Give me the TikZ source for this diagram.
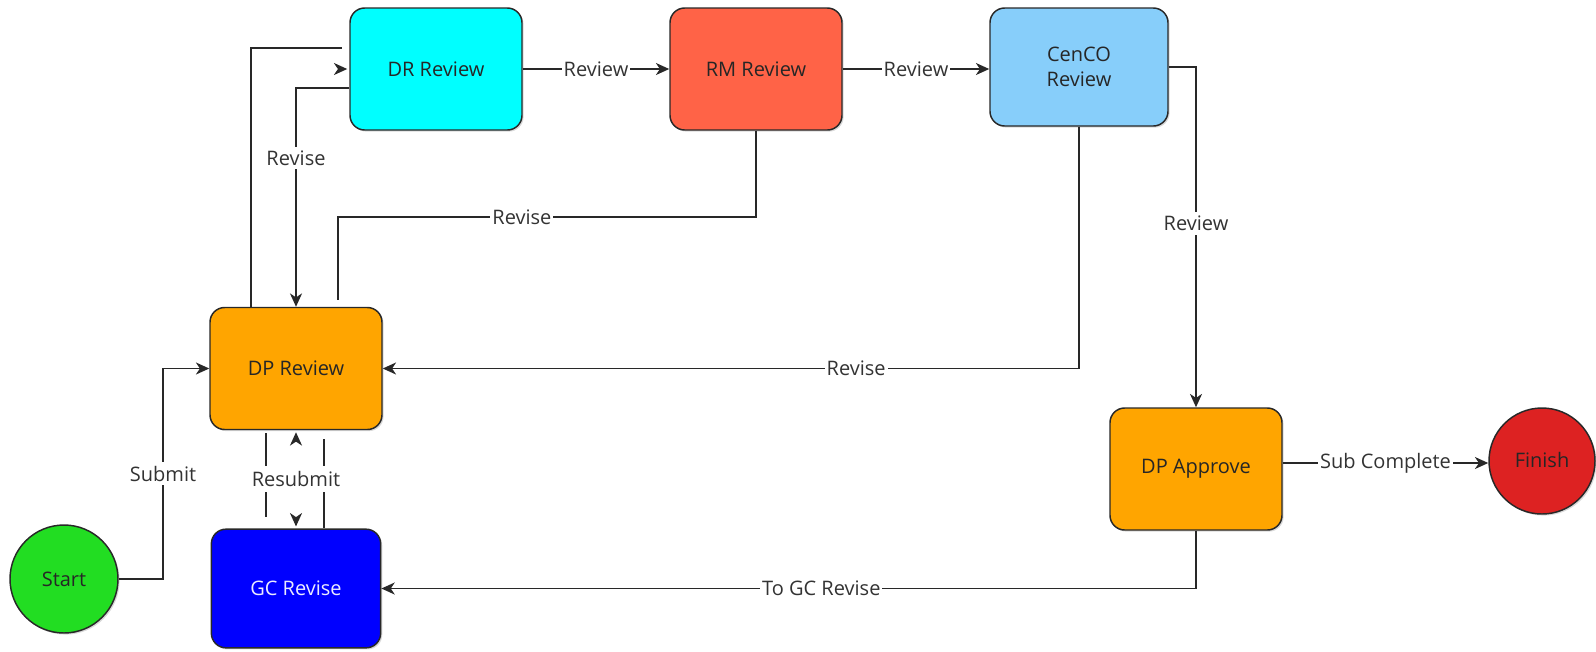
\documentclass[tikz,border=0pt]{standalone}
\usepackage{fontspec}
\setmainfont{Open Sans}
\usepackage{tikz}
\usetikzlibrary{arrows.meta}
\usetikzlibrary{shadows}
\usetikzlibrary{calc}

\definecolor{drcyan}{RGB}{0,255,255}
\definecolor{rmred}{RGB}{255,99,71}
\definecolor{cencoblue}{RGB}{135,206,250}
\definecolor{dporange}{RGB}{255,165,0}
\definecolor{gcblue}{RGB}{0,0,255}
\definecolor{startgreen}{RGB}{34,221,34}
\definecolor{finishred}{RGB}{221,34,34}
\definecolor{linegray}{RGB}{40,40,40}

\begin{document}
\begin{tikzpicture}[x=0.75pt,y=-0.75pt,>={Stealth[length=10pt,width=9pt,inset=3pt]},
                    line width=1.35pt,color=linegray,
                    flow box/.style={rectangle,rounded corners=11pt,draw=linegray,line width=1.1pt,
                      minimum width=129pt,minimum height=91.5pt,align=center,text=black!85,
                      font=\fontsize{15}{19}\selectfont,
                      drop shadow={shadow xshift=1.2pt,shadow yshift=-1.2pt,opacity=0.3}},
                    end node/.style={circle,draw=linegray,line width=1.1pt,inner sep=0pt,
                      text=black!85,font=\fontsize{15}{19}\selectfont,
                      drop shadow={shadow xshift=1.2pt,shadow yshift=-1.2pt,opacity=0.3}},
                    edge label/.style={fill=white,inner xsep=1.5pt,inner ysep=3pt,text=black!80,
                      font=\fontsize{15}{19}\selectfont}]

  \useasboundingbox (0,0) rectangle (1596,651);

  \node[flow box,fill=drcyan] (dr) at (436,69) {DR Review};
  \node[flow box,fill=rmred] (rm) [right of=dr,node distance=240pt] {RM Review};
  \node[flow box,fill=cencoblue,minimum width=133.5pt,minimum height=88.5pt] (cenco) at (1079,67) {CenCO\\Review};
  \node[flow box,fill=dporange] (dp) at (296,368.5) {DP Review};
  \node[flow box,fill=gcblue,text=white!92!blue,minimum width=127pt,minimum height=89pt] (gc) [below of=dp,node distance=165pt] {GC Revise};
  \node[flow box,fill=dporange] (dpa) at (1196,469) {DP Approve};
  \node[end node,fill=startgreen,minimum size=81pt] (start) at (64,579) {Start};
  \node[end node,fill=finishred,minimum size=79.5pt] (finish) at (1542,461) {\raisebox{2pt}{Finish}};

  \coordinate (subbend) at (163,579);
  \coordinate (rmbend) at (338,217);
  \coordinate (rmend) at (338,300);
  \coordinate (dptop) at (251,48);
  \coordinate (drin) at (342,48);
  \coordinate (drout) at ($(dr.west)+(0,19)$);
  \coordinate (dpaout) at ($(dpa.east)+(0,-6)$);

  \path[->,every node/.style={edge label}]
    (dr) edge node {Review} (rm)
    (rm.east) edge node {Review} (rm.east -| cenco.west)
    (dpaout) edge node {Sub Complete} (dpaout -| finish.west);

  \draw[->] (cenco.east) -| node[edge label,pos=0.73] {Review} (dpa.north);
  \draw[->] (cenco.south) |- node[edge label,pos=0.66] {Revise} (dp.east);
  \draw[->] (dpa.south) |- node[edge label,pos=0.73] {To GC Revise} (gc.east);
  \draw[->] (start.east) -- (subbend) |- node[edge label,pos=0.25] {Submit} (dp.west);

  % loose ends round DP Review
  \draw (rm.south) |- node[edge label,pos=0.78] {Revise} (rmbend) -- (rmend);
  \draw[->] (drout) -| node[edge label,pos=0.66] {Revise} (dp.north);
  \draw (dptop |- dp.north) -- (dptop) -- (drin);
  \draw[->,shorten >=1.5pt] ($(dr.west)+(-11.3,0)$) -- (dr.west);

  % resubmit between DP Review and GC Revise
  \draw ($(dp.south)+(-30,3)$) -- ($(gc.north)+(-30,-11)$);
  \draw ($(dp.south)+(28,9)$) -- ($(gc.north)+(28,0)$);
  \draw[->,shorten >=1.5pt] ($(dp.south)+(0,11.3)$) -- (dp.south);
  \draw[->,shorten >=1.5pt] ($(gc.north)+(0,-11.3)$) -- (gc.north);
  \node[edge label,inner ysep=4pt] (resub) at ($(dp.south)!0.5!(gc.north)$) {Resubmit};

\end{tikzpicture}
\end{document}
